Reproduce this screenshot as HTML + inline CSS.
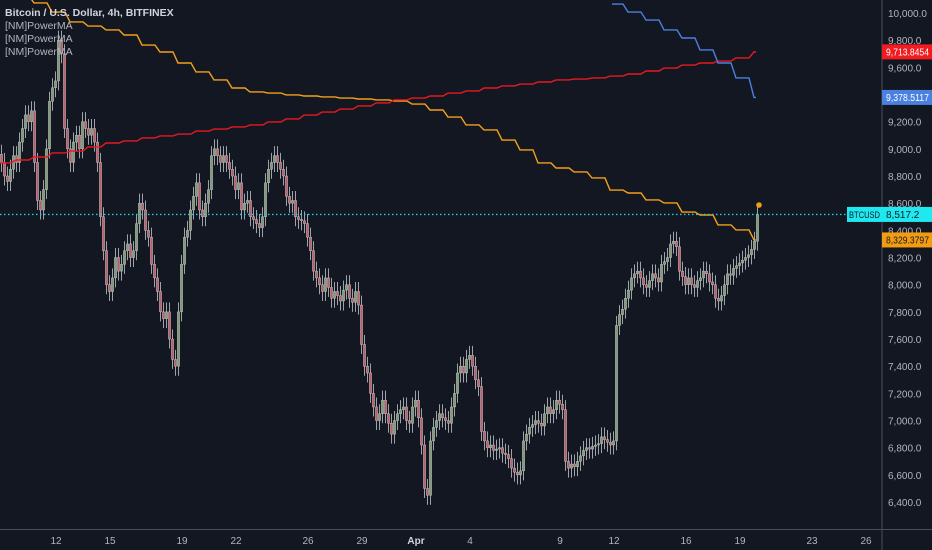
<!DOCTYPE html>
<html><head><meta charset="utf-8"><style>
html,body{margin:0;padding:0;background:#131722;}
svg{display:block;font-family:"Liberation Sans",sans-serif;}
</style></head><body>
<svg id="chart" width="932" height="550" viewBox="0 0 932 550">
<rect x="0" y="0" width="932" height="550" fill="#131722"/>
<g id="candles"></g>
<g id="mas"></g>
<line x1="0" y1="215" x2="882" y2="215" stroke="#26d0dc" stroke-width="1.3" stroke-dasharray="1.5,2.5" id="lastline"/>
<line x1="882" y1="0" x2="882" y2="550" stroke="#4a4e59"/>
<line x1="0" y1="529.5" x2="932" y2="529.5" stroke="#4a4e59"/>
<g id="yaxis"></g>
<g id="xaxis"></g>
<g id="labels"></g>
<g font-size="10.5">
<text x="5" y="16" fill="#d1d4dc" font-weight="bold">Bitcoin / U.S. Dollar, 4h, BITFINEX</text>
<text x="5" y="29" fill="#b2b5be">[NM]PowerMA</text>
<text x="5" y="42" fill="#b2b5be">[NM]PowerMA</text>
<text x="5" y="55" fill="#b2b5be">[NM]PowerMA</text>
</g>
</svg>
<script>
const closes=[8900,8800,8760,8850,8950,8900,9050,9150,9250,9200,
9280,8900,8620,8550,8700,9000,9350,9450,9500,9800,
9700,9150,9000,8900,9050,9100,9000,9200,9150,9100,
9150,9050,8900,8500,8250,8000,7950,8050,8200,8100,
8150,8250,8300,8200,8250,8450,8600,8550,8400,8350,
8150,8050,7950,7800,7750,7800,7600,7450,7400,7800,
8150,8350,8400,8550,8650,8750,8550,8500,8600,8700,
8950,9000,8950,8900,8950,8900,8850,8800,8700,8750,
8550,8600,8620,8500,8480,8450,8420,8500,8750,8850,
8900,8950,8900,8850,8800,8650,8600,8620,8500,8480,
8470,8450,8350,8250,8100,8050,8000,7950,8050,7980,
7900,7950,7920,7880,7960,8000,7900,7870,7950,7850,
7560,7400,7350,7200,7100,7000,7050,7150,7050,6980,
6900,7000,7050,7080,7100,7000,6980,7100,7150,7020,
6820,6500,6450,6850,6950,7000,7050,7020,7000,6980,
7100,7200,7350,7400,7350,7450,7480,7400,7300,7250,
6920,6850,6800,6820,6780,6790,6800,6760,6750,6720,
6650,6620,6600,6630,6850,6900,6950,6970,7000,6980,
6960,7050,7100,7050,7080,7150,7120,7080,6700,6650,
6680,6660,6700,6740,6780,6800,6790,6810,6820,6830,
6880,6860,6840,6820,6850,7700,7780,7820,7900,7960,
8050,8080,8100,8050,8000,7980,8030,8080,8050,8020,
8150,8170,8200,8300,8320,8280,8100,8060,8000,8050,
8000,7980,8030,8050,8100,8080,8020,8000,7900,7880,
7920,8000,8080,8070,8120,8140,8160,8180,8200,8220,
8260,8320,8517.2];
const maOrange=[10169,10125,10074,10007,9934,9904,9875,9838,9764,9713,9632,9566,9507,9448,9419,9411,9397,9389,9382,9374,9367,9360,9352,9330,9286,9234,9176,9139,9065,8992,8896,8859,8830,8786,8697,8675,8624,8602,8535,8513,8440,8403,8329.38];
const maRed=[8896,8918,8940,8970,8984,9014,9043,9058,9080,9095,9109,9131,9146,9161,9176,9198,9220,9249,9271,9293,9316,9338,9360,9374,9389,9411,9426,9448,9463,9477,9492,9507,9514,9522,9536,9551,9573,9595,9617,9632,9646,9669,9713.85];
const maBlueStart=34;
const maBlue=[10066,10007,9948,9875,9816,9728,9632,9522,9378.51];
const yTicks=[10000,9800,9600,9400,9200,9000,8800,8600,8400,8200,8000,7800,7600,7400,7200,7000,6800,6600,6400];
const xTickLabels=["12","15","19","22","26","29","Apr","4","9","12","16","19","23","26"];
const xTickDays=[3,6,10,13,17,20,23,26,31,34,38,41,45,48];

const NS="http://www.w3.org/2000/svg";
function yS(v){return 13+(10000-v)/200*27.17;}
function xC(i){return i*3+1.5;}
function xD(d){return d*18;}
function mk(t,a,p){const e=document.createElementNS(NS,t);for(const k in a)e.setAttribute(k,a[k]);p.appendChild(e);return e;}

const cg=document.getElementById('candles');
for(let i=0;i<closes.length;i++){
  const c=closes[i], o=i>0?closes[i-1]:c+60;
  const hi=Math.max(o,c)+70, lo=Math.min(o,c)-70;
  const up=c>=o, x=xC(i);
  const g=mk('g',{},cg);
  
  
  mk('line',{x1:x,x2:x,y1:yS(hi),y2:yS(lo),stroke:'#c4c6cc','stroke-width':0.8},g);
  const t=yS(Math.max(o,c)),b=yS(Math.min(o,c));
  mk('rect',{x:x-1.1,y:t,width:2.2,height:Math.max(1,b-t),fill:up?'#7f9a74':'#b8606a',stroke:'#cfd1d6','stroke-width':0.4},g);
}
const mg=document.getElementById('mas');
function drawMA(arr,start,color,name){
  let d='';
  for(let k=0;k<arr.length;k++){
    const x=Math.min(xD(start+k),759), y=yS(arr[k]);
    if(k===0){d+='M'+x+','+y;}
    else{const px=xD(start+k-1)+11;d+=' L'+px+','+yS(arr[k-1])+' L'+(px+5)+','+y+' L'+x+','+y;}
  }
  const p=mk('path',{d:d,fill:'none',stroke:color,'stroke-width':1.4},mg);
  
  
}
drawMA(maOrange,0,'#f5a01a','ma-orange-line');
drawMA(maRed,0,'#e8191f','ma-red-line');
drawMA(maBlue,maBlueStart,'#4a80e0','ma-blue-line');
const dot=mk('circle',{cx:759,cy:205,r:2.8,fill:'#f39c12'},mg);



const ya=document.getElementById('yaxis');
yTicks.forEach(v=>{
  const t=mk('text',{x:888,y:yS(v)+4,fill:'#b2b5be','font-size':10},ya);
  t.textContent=v.toLocaleString('en-US',{minimumFractionDigits:1,maximumFractionDigits:1});
  
  
});
const xa=document.getElementById('xaxis');
xTickLabels.forEach((s,k)=>{
  const t=mk('text',{x:xD(xTickDays[k])+2,y:544,fill:s==='Apr'?'#d1d4dc':'#b2b5be','font-size':10,'text-anchor':'middle','font-weight':s==='Apr'?'bold':'normal'},xa);
  t.textContent=s;
  
  
});
const lg=document.getElementById('labels');
function tag(v,txt,bg,fg,name){
  const y=yS(v);
  const g=mk('g',{},lg);
  
  
  mk('rect',{x:882,y:y-7.5,width:50,height:15,fill:bg},g);
  const a={x:886,y:y+3.5,fill:fg,'font-size':10};
  if(txt.length>8){a.textLength=43;a.lengthAdjust='spacingAndGlyphs';}
  const t=mk('text',a,g);
  t.textContent=txt;
}
tag(maRed[maRed.length-1],'9,713.8454','#f21b1f','#ffffff','red-ma-price-tag');
tag(maBlue[maBlue.length-1],'9,378.5117','#4a80e0','#ffffff','blue-ma-price-tag');
tag(closes[closes.length-1],'8,517.2','#1ee8f0','#131722','last-price-tag');
tag(maOrange[maOrange.length-1],'8,329.3797','#f39c12','#131722','orange-ma-price-tag');
{
  const y=yS(closes[closes.length-1]);
  const g=mk('g',{},lg);
  
  
  mk('rect',{x:847,y:y-7.5,width:35,height:15,fill:'#1ee8f0'},g);
  const t=mk('text',{x:849,y:y+3.5,fill:'#131722','font-size':9.5,textLength:31,lengthAdjust:'spacingAndGlyphs'},g);
  t.textContent='BTCUSD';
  document.getElementById('lastline').setAttribute('y1',y);
  document.getElementById('lastline').setAttribute('y2',y);
}
</script>
</body></html>
